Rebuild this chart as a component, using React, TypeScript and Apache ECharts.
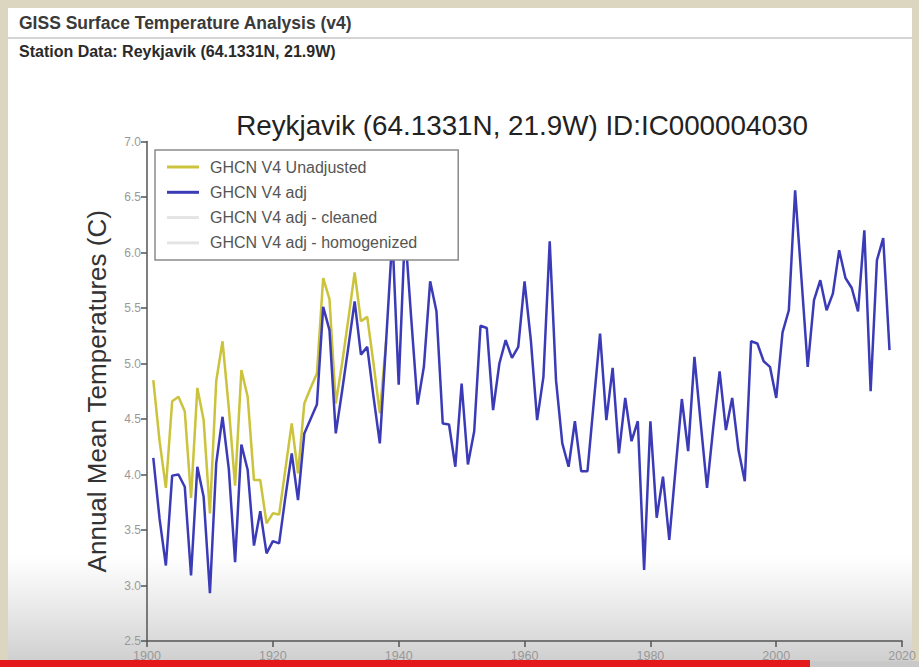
import React, { useEffect, useRef } from "react";
import * as echarts from "echarts";

const PAGE_TITLE = "GISS Surface Temperature Analysis (v4)";
const STATION_TITLE = "Station Data: Reykjavik (64.1331N, 21.9W)";
const CHART_TITLE = "Reykjavik (64.1331N, 21.9W) ID:IC000004030";
const Y_NAME = "Annual Mean Temperatures (C)";

const SERIES_NAMES = [
  "GHCN V4 Unadjusted",
  "GHCN V4 adj",
  "GHCN V4 adj - cleaned",
  "GHCN V4 adj - homogenized",
];

const ADJ_START = 1901;
const adjValues = [
  4.15, 3.6, 3.18, 3.99, 4.0, 3.89, 3.09, 4.07, 3.8, 2.93,
  4.1, 4.52, 4.05, 3.21, 4.27, 4.04, 3.36, 3.67, 3.29, 3.4,
  3.38, 3.8, 4.19, 3.77, 4.37, 4.5, 4.63, 5.51, 5.3, 4.37,
  4.75, 5.15, 5.56, 5.08, 5.15, 4.7, 4.28, 5.2, 6.15, 4.81,
  6.2, 5.4, 4.63, 4.97, 5.74, 5.47, 4.46, 4.45, 4.07, 4.82,
  4.09, 4.39, 5.34, 5.32, 4.58, 5.0, 5.21, 5.05, 5.15, 5.74,
  5.21, 4.49, 4.88, 6.1, 4.85, 4.28, 4.07, 4.48, 4.03, 4.03,
  4.65, 5.27, 4.49, 4.96, 4.19, 4.69, 4.3, 4.48, 3.14, 4.48,
  3.61, 3.98, 3.41, 4.05, 4.68, 4.21, 5.06, 4.46, 3.88, 4.43,
  4.93, 4.4, 4.69, 4.22, 3.94, 5.2, 5.18, 5.02, 4.97, 4.69,
  5.28, 5.48, 6.56, 5.77, 4.97, 5.57, 5.75, 5.48, 5.63, 6.02,
  5.77, 5.68, 5.47, 6.2, 4.75, 5.93, 6.13, 5.12,
];

const UNADJ_START = 1901;
const unadjValues = [
  4.85, 4.3, 3.88, 4.66, 4.7, 4.57, 3.79, 4.78, 4.49, 3.65,
  4.84, 5.2, 4.6, 3.9, 4.94, 4.7, 3.95, 3.95, 3.56, 3.65,
  3.64, 4.05, 4.46, 4.01, 4.64, 4.78, 4.91, 5.77, 5.58, 4.64,
  5.0, 5.4, 5.82, 5.38, 5.42, 5.0, 4.55, 5.2,
];

const xTicks = { min: 1900, max: 2020, interval: 20 };
const yTicks = { min: 2.5, max: 7.0, interval: 0.5 };

const toPairs = (start: number, vals: number[]) =>
  vals.map((v, i) => [start + i, v]);

const FONT = "'Liberation Sans', Arial, Helvetica, sans-serif";

export default function App() {
  const ref = useRef<HTMLDivElement>(null);

  useEffect(() => {
    if (!ref.current) return;
    const chart = echarts.init(ref.current, undefined, { renderer: "svg" });
    chart.setOption({
      animation: false,
      backgroundColor: "#ffffff",
      title: [
        {
          text: PAGE_TITLE,
          left: 19,
          top: 14,
          padding: 0,
          textStyle: { fontFamily: FONT, fontWeight: "bold", fontSize: 17.5, color: "#3a3a3a" },
        },
        {
          text: STATION_TITLE,
          left: 19,
          top: 43,
          padding: 0,
          textStyle: { fontFamily: FONT, fontWeight: "bold", fontSize: 16, color: "#2a2a2a" },
        },
      ],
      graphic: [
        { type: "rect", z: -1, silent: true, shape: { x: 0, y: 0, width: 919, height: 8 }, style: { fill: "#dcd5bf" } },
        { type: "rect", z: -1, silent: true, shape: { x: 0, y: 0, width: 8, height: 667 }, style: { fill: "#dcd5bf" } },
        { type: "rect", z: -1, silent: true, shape: { x: 912, y: 0, width: 7, height: 667 }, style: { fill: "#dcd5bf" } },
        { type: "line", z: -1, silent: true, shape: { x1: 8, y1: 38, x2: 912, y2: 38 }, style: { stroke: "#d4d4d4", lineWidth: 2 } },
        {
          type: "rect",
          z: -1,
          silent: true,
          shape: { x: 8, y: 555, width: 904, height: 112 },
          style: {
            fill: new echarts.graphic.LinearGradient(0, 0, 0, 1, [
              { offset: 0, color: "rgba(205,205,205,0)" },
              { offset: 1, color: "rgba(195,195,195,0.85)" },
            ]),
          },
        },
        {
          type: "text",
          z: 5,
          x: 522,
          y: 111,
          style: {
            text: CHART_TITLE,
            fontFamily: FONT,
            fontSize: 27.8,
            fill: "#222222",
            align: "center",
            verticalAlign: "top",
          },
        },
        { type: "rect", z: 100, silent: true, shape: { x: 810, y: 661, width: 109, height: 6 }, style: { fill: "rgba(200,200,200,0.9)" } },
        { type: "rect", z: 101, silent: true, shape: { x: 0, y: 660, width: 810, height: 7 }, style: { fill: "#e3191b" } },
      ],
      legend: {
        orient: "vertical",
        left: 155,
        top: 150,
        padding: [9, 41, 9, 12],
        itemGap: 9.3,
        itemWidth: 32,
        itemHeight: 3,
        icon: "rect",
        backgroundColor: "#ffffff",
        borderColor: "#8a8a8a",
        borderWidth: 1.5,
        z: 10,
        textStyle: { fontFamily: FONT, fontSize: 16, color: "#555555", padding: [0, 0, 0, 6] },
        data: SERIES_NAMES,
      },
      grid: { left: 147, right: 16, top: 141.5, bottom: 26, containLabel: false },
      xAxis: {
        type: "value",
        min: xTicks.min,
        max: xTicks.max,
        interval: xTicks.interval,
        axisLine: { show: true, lineStyle: { color: "#555555", width: 1.5 } },
        axisTick: { show: true, length: 6, lineStyle: { color: "#555555", width: 1.5 } },
        axisLabel: {
          color: "#999999",
          fontSize: 12.5,
          fontFamily: FONT,
          margin: 8,
          formatter: (v: number) => String(v),
        },
        splitLine: { show: false },
      },
      yAxis: {
        type: "value",
        min: yTicks.min,
        max: yTicks.max,
        interval: yTicks.interval,
        name: Y_NAME,
        nameLocation: "middle",
        nameGap: 37,
        nameRotate: 90,
        nameTextStyle: { fontFamily: FONT, fontSize: 26, color: "#333333" },
        axisLine: { show: true, lineStyle: { color: "#555555", width: 1.5 } },
        axisTick: { show: true, length: 6, lineStyle: { color: "#555555", width: 1.5 } },
        axisLabel: {
          color: "#999999",
          fontSize: 12,
          fontFamily: FONT,
          margin: 6,
          formatter: (v: number) => v.toFixed(1),
        },
        splitLine: { show: false },
      },
      series: [
        {
          name: SERIES_NAMES[2],
          type: "line",
          color: "#e4e4e4",
          data: [],
          showSymbol: false,
          lineStyle: { width: 2, color: "#e4e4e4" },
        },
        {
          name: SERIES_NAMES[3],
          type: "line",
          color: "#e4e4e4",
          data: [],
          showSymbol: false,
          lineStyle: { width: 2, color: "#e4e4e4" },
        },
        {
          name: SERIES_NAMES[0],
          type: "line",
          color: "#cbc33c",
          data: toPairs(UNADJ_START, unadjValues),
          showSymbol: false,
          z: 2,
          lineStyle: { width: 2.5, color: "#cbc33c" },
        },
        {
          name: SERIES_NAMES[1],
          type: "line",
          color: "#3b3bb8",
          data: toPairs(ADJ_START, adjValues),
          showSymbol: false,
          z: 3,
          lineStyle: { width: 2.5, color: "#3b3bb8" },
        },
      ],
    });
    return () => chart.dispose();
  }, []);

  return (
    <div
      ref={ref}
      style={{ position: "fixed", left: 0, top: 0, width: 919, height: 667 }}
    />
  );
}
